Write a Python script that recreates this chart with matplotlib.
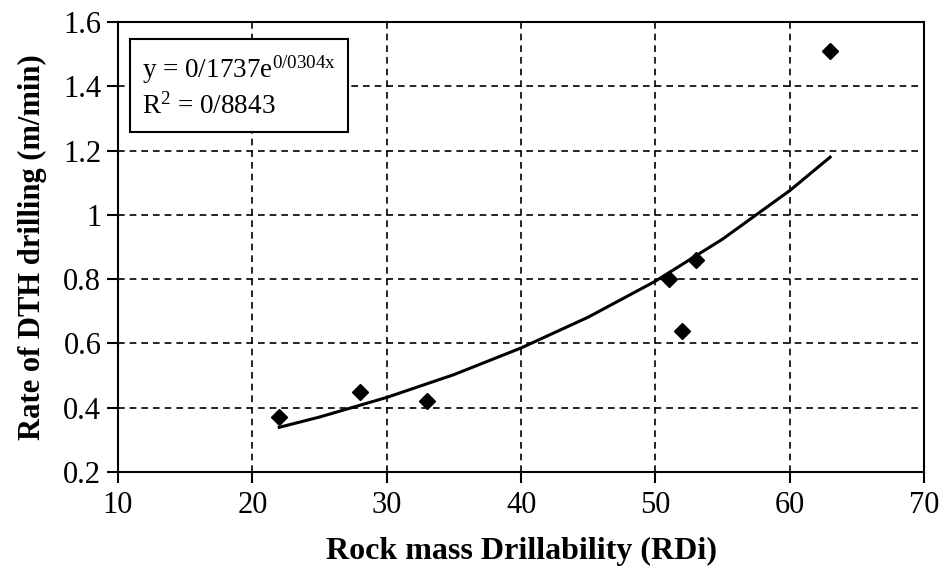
import matplotlib
matplotlib.use("Agg")
import matplotlib.pyplot as plt

plt.rcParams['font.family'] = ['Liberation Serif', 'DejaVu Serif']
plt.rcParams['mathtext.fontset'] = 'custom'
plt.rcParams['mathtext.rm'] = 'Liberation Serif'
plt.rcParams['mathtext.it'] = 'Liberation Serif:italic'

# Data points
rdi = [22, 28, 33, 51, 52, 53, 63]
rate = [0.37, 0.45, 0.42, 0.80, 0.64, 0.86, 1.51]

# Trend curve
trend_x = [22, 25, 30, 35, 40, 45, 50, 55, 60, 63]
trend_y = [0.339, 0.371, 0.432, 0.503, 0.586, 0.682, 0.794, 0.925, 1.076, 1.180]

x_ticks = [10, 20, 30, 40, 50, 60, 70]
y_ticks = [0.2, 0.4, 0.6, 0.8, 1.0, 1.2, 1.4, 1.6]
y_tick_labels = ['0.2', '0.4', '0.6', '0.8', '1', '1.2', '1.4', '1.6']

fig = plt.figure(figsize=(9.44, 5.70), dpi=100)
ax = fig.add_axes([0.125, 0.172, 0.854, 0.789])

ax.plot(trend_x, trend_y, color='black', lw=2.2, zorder=3)
ax.plot(rdi, rate, linestyle='none', marker='D', color='black', ms=8.5, zorder=4)

ax.set_xlim(10, 70)
ax.set_ylim(0.2, 1.6)
ax.set_xticks(x_ticks)
ax.set_yticks(y_ticks)
ax.set_yticklabels(y_tick_labels)
ax.tick_params(axis='both', direction='out', length=8, width=1.5, labelsize=22, colors='black')
ax.tick_params(axis='x', pad=6)
ax.tick_params(axis='y', pad=4)

ax.grid(True, color='black', linestyle=(0, (4, 3)), linewidth=1.2)
ax.set_axisbelow(True)
for s in ax.spines.values():
    s.set_linewidth(1.5)
    s.set_color('black')

ax.set_xlabel('Rock mass Drillability (RDi)', fontsize=23, fontweight='bold', labelpad=12)
ax.set_ylabel('Rate of DTH drilling (m/min)', fontsize=22, fontweight='bold', labelpad=12)

ax.text(0.03, 0.93, 'y = 0/1737e$^{\\mathregular{0/0304x}}$\nR$^{\\mathregular{2}}$ = 0/8843',
        transform=ax.transAxes, fontsize=19.5, va='top', ha='left', linespacing=1.35,
        bbox=dict(boxstyle='square,pad=0.45', facecolor='white', edgecolor='black', linewidth=1.5),
        zorder=5)

fig.savefig('out.png', dpi=100)
